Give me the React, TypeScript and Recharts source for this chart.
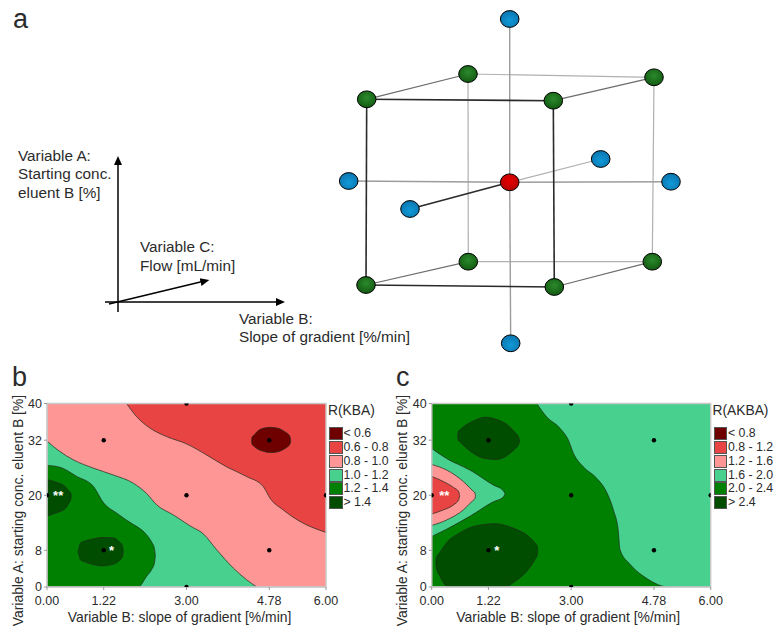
import { Area, ComposedChart, ReferenceArea, ReferenceLine, Scatter, ScatterChart, XAxis, YAxis } from 'recharts';

const FONT = '"Liberation Sans", Arial, sans-serif';
const TEXT = '#2b2b2b';

// contour colours, same six for both panels
const shades = ['#6e0000', '#e84444', '#ff9696', '#48d08f', '#008000', '#004d00'];

const slopeTicks = [0, 1.22, 3, 4.78, 6];
const concTicks = [0, 8, 20, 32, 40];
const designPoints = [
  { x: 1.22, y: 32 }, { x: 1.22, y: 8 }, { x: 3, y: 40 }, { x: 3, y: 20 }, { x: 3, y: 0 },
  { x: 4.78, y: 32 }, { x: 4.78, y: 8 }, { x: 0, y: 20 }, { x: 6, y: 20 },
];

// panel b: [x, low, high] along each contour band
const kbaRed = [
  [1.71, 40, 40], [1.93, 37.1, 40], [2.22, 34.6, 40], [2.57, 32.8, 40], [3, 31.2, 40], [3.43, 28.8, 40], [3.86, 26.2, 40],
  [4.29, 24.1, 40], [4.65, 21.9, 40], [4.8, 19.3, 40], [5.08, 16.8, 40], [5.44, 14.3, 40], [6, 11.9, 40],
];
const kbaDarkRed = [
  [4.4, 31.9, 31.9], [4.41, 31.1, 32.7], [4.45, 30.7, 33.1], [4.51, 30.2, 33.8], [4.65, 29.6, 34.6], [4.8, 29.3, 34.8], [4.97, 29.5, 34.6], [5.12, 30.2, 33.8], [5.18, 30.6, 33.4], [5.23, 31.3, 32.6], [5.24, 31.9, 31.9],
];
const kbaTeal = [
  [0, 0, 31.8], [0.28, 0, 29.5], [0.57, 0, 27.7], [1, 0, 25.9], [1.43, 0, 24.4], [1.86, 0, 22.6], [2.14, 0, 20.4], [2.36, 0, 17.9],
  [2.72, 0, 15.7], [3.08, 0, 13.3], [3.36, 0, 11.6], [3.65, 0, 8.1], [4.01, 0, 4.1], [4.29, 0, 1.6], [4.51, 0, 0],
];
const kbaGreen = [
  [0, 0, 26.5], [0.28, 0, 26.1], [0.64, 0, 24.1], [1, 0, 21.9], [1.22, 0, 18.3], [1.5, 0, 16.1], [1.86, 0, 13.6], [1.96, 0, 13],
  [2.14, 2.3, 11.4], [2.25, 3.8, 9.8], [2.31, 5.2, 8.4], [2.33, 6.9, 6.9],
];
const kbaDarkLeft = [[0, 15.5, 23.4], [0.21, 16.2, 22.8], [0.39, 17.1, 21.9], [0.47, 18.3, 20.9], [0.51, 19.1, 20.5], [0.52, 19.9, 19.9]];
const kbaDarkLow = [
  [0.67, 7.75, 7.75], [0.69, 6.9, 8.6], [0.72, 5.9, 9.6], [0.78, 5.6, 9.9], [0.96, 5.0, 10.4], [1.18, 4.6, 10.8], [1.43, 5, 10.7], [1.55, 5.7, 9.9], [1.62, 6.6, 9], [1.64, 7.75, 7.75],
];

// panel c
const akbaTeal = [
  [2.26, 40, 40], [2.47, 37.1, 40], [2.76, 34.6, 40], [2.94, 32, 40], [3.05, 29.1, 40], [3.26, 26.2, 40], [3.55, 23.7, 40],
  [3.76, 20.7, 40], [3.91, 16.7, 40], [4.01, 12.4, 40], [4.05, 8.1, 40], [4.27, 4.9, 40], [4.62, 1.9, 40], [5.09, 0, 40], [6, 0, 40],
];
const akbaNoseTeal = [[0, 11, 30.2], [0.32, 12.6, 28], [0.82, 15.4, 25.5], [1.33, 18.6, 22.2], [1.53, 19.5, 21.1], [1.58, 20.3, 20.3]];
const akbaNosePink = [[0, 13.4, 26.7], [0.32, 14.6, 25.5], [0.68, 16.8, 23], [0.88, 18.8, 21], [0.93, 19.3, 20.5], [0.94, 19.9, 19.9]];
const akbaNoseRed = [[0, 15.9, 24.1], [0.25, 16.8, 23], [0.47, 17.9, 21.7], [0.58, 19, 20.8], [0.6, 19.9, 19.9]];
const akbaDarkTop = [
  [0.56, 32.9, 32.9], [0.57, 32, 33.8], [0.6, 31.7, 34.2], [0.68, 30.9, 34.9], [0.9, 29.1, 36.2], [1.15, 28, 37], [1.4, 27.8, 36.5], [1.68, 29.1, 34.9], [1.78, 30, 33.8], [1.87, 31.1, 32.6], [1.89, 31.8, 31.8],
];
const akbaDarkLow = [
  [0.09, 5.2, 5.2], [0.1, 4.2, 6.3], [0.18, 2.3, 7.6], [0.36, 0, 10.1], [0.54, 0, 11.4], [0.9, 0, 13.2], [1.37, 0, 13.8], [1.59, 0, 13.4],
  [1.76, 1, 12.8], [2.12, 4.4, 10.7], [2.22, 6, 9.6], [2.27, 7, 8.9], [2.28, 8.1, 8.1],
];

const kbaLegend = ['< 0.6', '0.6 - 0.8', '0.8 - 1.0', '1.0 - 1.2', '1.2 - 1.4', '> 1.4'];
const akbaLegend = ['< 0.8', '0.8 - 1.2', '1.2 - 1.6', '1.6 - 2.0', '2.0 - 2.4', '> 2.4'];

// panel a, hidden axes run in the units of the sketch
const frontTL = { x: 366.7, y: 99.3 };
const frontTR = { x: 553.3, y: 100.7 };
const frontBL = { x: 366, y: 285 };
const frontBR = { x: 554.3, y: 287 };
const rearTL = { x: 468, y: 74 };
const rearTR = { x: 654, y: 77.3 };
const rearBL = { x: 468.3, y: 261.7 };
const rearBR = { x: 652.3, y: 261.7 };
const axisTop = { x: 509.7, y: 19 };
const axisBottom = { x: 510.7, y: 343.3 };
const axisLeft = { x: 348.7, y: 181 };
const axisRight = { x: 671, y: 181.7 };
const axisFront = { x: 410, y: 209 };
const axisBack = { x: 600.7, y: 159 };
const center = { x: 509.7, y: 182.3 };

const greenNodes = [frontTL, frontTR, frontBL, frontBR, rearTL, rearTR, rearBL, rearBR];
const blueNodes = [axisTop, axisBottom, axisLeft, axisRight, axisFront, axisBack];
const redNodes = [center];

const frontEdges = [[frontTL, frontTR], [frontTL, frontBL], [frontTR, frontBR], [frontBL, frontBR], [axisFront, center]];
const rearEdges = [[rearTL, rearTR], [rearTL, rearBL], [rearTR, rearBR], [rearBL, rearBR], [center, axisBack]];
const depthEdges = [[frontTL, rearTL], [frontTR, rearTR], [frontBL, rearBL], [frontBR, rearBR]];
const starEdges = [[axisTop, center], [center, axisBottom], [axisLeft, center], [center, axisRight]];
const arrowEdges = [
  [{ x: 118, y: 312 }, { x: 118, y: 163 }],
  [{ x: 105, y: 302 }, { x: 278, y: 302 }],
  [{ x: 109, y: 304 }, { x: 202.5, y: 281.6 }],
];

const toRows = (band: number[][]) => band.map(([x, low, high]) => ({ x, band: [low, high] }));

function Dot({ cx, cy }: any) {
  return <circle cx={cx} cy={cy} r={2.2} fill="#000" />;
}

function Stars({ cx, cy, payload }: any) {
  return (
    <text x={cx} y={cy + 5} textAnchor="middle" fontSize={13} fontWeight="bold" fontFamily={FONT} fill="#fff">
      {payload.mark}
    </text>
  );
}

function Node({ cx, cy, fill }: any) {
  return <ellipse cx={cx} cy={cy} rx={9.3} ry={8.4} fill={fill} stroke="#000" strokeWidth={1} />;
}

function Legend({ left, title, labels }: { left: number; title: string; labels: string[] }) {
  return (
    <div style={{ position: 'absolute', left, top: 0, fontFamily: FONT, color: TEXT }}>
      <div style={{ position: 'absolute', left: 0, top: 403, fontSize: 13.8, whiteSpace: 'nowrap' }}>{title}</div>
      {labels.map((label, i) => (
        <div key={label} style={{ position: 'absolute', left: 1, top: 427.3 + i * 13.75, height: 13, whiteSpace: 'nowrap' }}>
          <div style={{ position: 'absolute', left: 0, top: 0, width: 11.5, height: 11, background: shades[i], border: '0.8px solid #555' }} />
          <div style={{ position: 'absolute', left: 14.5, top: -1, fontSize: 12.3, lineHeight: '14px' }}>{label}</div>
        </div>
      ))}
    </div>
  );
}

function ContourPanel({ left, marginRight, yAxisWidth, background, bands, stars, xLabelShift }: any) {
  return (
    <div style={{ position: 'absolute', left, top: 385 }}>
      <ComposedChart width={345} height={250} margin={{ top: 18.5, right: marginRight, bottom: 0, left: 0 }}>
        <XAxis
          dataKey="x"
          type="number"
          domain={[0, 6]}
          ticks={slopeTicks}
          interval={0}
          allowDataOverflow
          tickFormatter={(v: number) => v.toFixed(2)}
          height={48}
          tickSize={3}
          tickMargin={6}
          axisLine={{ stroke: '#c8c8c8' }}
          tickLine={{ stroke: '#999' }}
          tick={{ fontSize: 12.5, fill: TEXT, fontFamily: FONT }}
          label={{ value: 'Variable B: slope of gradient [%/min]', position: 'insideBottom', dx: xLabelShift, dy: -8, fontSize: 13.9, fill: TEXT, fontFamily: FONT }}
        />
        <YAxis
          dataKey="y"
          type="number"
          domain={[0, 40]}
          ticks={concTicks}
          interval={0}
          allowDataOverflow
          width={yAxisWidth}
          tickSize={3}
          axisLine={{ stroke: '#c8c8c8' }}
          tickLine={{ stroke: '#999' }}
          tick={{ fontSize: 12.5, fill: TEXT, fontFamily: FONT }}
          label={{ value: 'Variable A: starting conc. eluent B [%]', angle: -90, position: 'insideLeft', dx: 13, dy: 131, fontSize: 13.9, fill: TEXT, fontFamily: FONT }}
        />
        <ReferenceArea x1={0} x2={6} y1={0} y2={40} fill={background} fillOpacity={1} stroke="none" />
        {bands.map((b: any, i: number) => (
          <Area
            key={i}
            data={toRows(b.rows)}
            dataKey="band"
            type="monotone"
            fill={b.fill}
            fillOpacity={1}
            stroke="#1c2a1c"
            strokeWidth={0.7}
            dot={false}
            activeDot={false}
            legendType="none"
            isAnimationActive={false}
          />
        ))}
        <Scatter data={designPoints} shape={<Dot />} isAnimationActive={false} />
        <Scatter data={stars} shape={<Stars />} isAnimationActive={false} />
        <ReferenceArea x1={0} x2={6} y1={0} y2={40} fill="none" stroke="#c8c8c8" strokeWidth={1.4} />
      </ComposedChart>
    </div>
  );
}

function DesignCube() {
  const edgeGroups = [
    { edges: rearEdges, stroke: '#b0b0b0', width: 1.2 },
    { edges: depthEdges, stroke: '#6c6c6c', width: 1.2 },
    { edges: starEdges, stroke: '#9c9c9c', width: 1.4 },
    { edges: frontEdges, stroke: '#2a2a2a', width: 1.6 },
  ];
  return (
    <div style={{ position: 'absolute', left: 0, top: 0 }}>
      <ScatterChart width={780} height={370} margin={{ top: 0, right: 0, bottom: 0, left: 0 }}>
        <defs>
          <radialGradient id="greenBall" cx="50%" cy="40%" r="60%">
            <stop offset="0%" stopColor="#2c8a2c" />
            <stop offset="100%" stopColor="#125a12" />
          </radialGradient>
          <radialGradient id="blueBall" cx="50%" cy="60%" r="60%">
            <stop offset="0%" stopColor="#109ad8" />
            <stop offset="100%" stopColor="#0b74ae" />
          </radialGradient>
          <radialGradient id="redBall" cx="50%" cy="40%" r="60%">
            <stop offset="0%" stopColor="#e80000" />
            <stop offset="100%" stopColor="#b40000" />
          </radialGradient>
          <marker id="arrowHead" markerUnits="userSpaceOnUse" markerWidth="10" markerHeight="10" refX="2" refY="5" orient="auto">
            <path d="M0,1 L9,5 L0,9 Z" fill="#000" />
          </marker>
        </defs>
        <XAxis dataKey="x" type="number" domain={[0, 780]} hide />
        <YAxis dataKey="y" type="number" domain={[0, 370]} reversed hide />
        {edgeGroups.map((group) =>
          group.edges.map((edge, i) => (
            <ReferenceLine key={group.stroke + i} segment={edge} stroke={group.stroke} strokeWidth={group.width} ifOverflow="visible" />
          )),
        )}
        {arrowEdges.map((edge, i) => (
          <ReferenceLine key={'arrow' + i} segment={edge} stroke="#000" strokeWidth={1.5} markerEnd="url(#arrowHead)" ifOverflow="visible" />
        ))}
        <Scatter data={greenNodes} fill="url(#greenBall)" shape={<Node />} isAnimationActive={false} />
        <Scatter data={blueNodes} fill="url(#blueBall)" shape={<Node />} isAnimationActive={false} />
        <Scatter data={redNodes} fill="url(#redBall)" shape={<Node />} isAnimationActive={false} />
      </ScatterChart>
    </div>
  );
}

function Note({ left, baseline, size = 15.3, children }: any) {
  return (
    <div style={{ position: 'absolute', left, top: baseline - size, fontSize: size, lineHeight: `${size * 1.2}px`, fontFamily: FONT, color: TEXT, whiteSpace: 'nowrap' }}>
      {children}
    </div>
  );
}

export default function App() {
  return (
    <div style={{ position: 'absolute', left: 0, top: 0, width: 780, height: 635, background: '#fff', overflow: 'hidden' }}>
      <DesignCube />
      <Note left={13} baseline={30} size={27}>a</Note>
      <Note left={12} baseline={388} size={27}>b</Note>
      <Note left={396} baseline={388} size={27}>c</Note>

      <Note left={18} baseline={162}>Variable A:</Note>
      <Note left={18} baseline={180}>Starting conc.</Note>
      <Note left={18} baseline={199}>eluent B [%]</Note>
      <Note left={140} baseline={253}>Variable C:</Note>
      <Note left={140} baseline={272}>Flow [mL/min]</Note>
      <Note left={239} baseline={325}>Variable B:</Note>
      <Note left={239} baseline={343}>Slope of gradient [%/min]</Note>

      <ContourPanel
        left={0}
        marginRight={19}
        yAxisWidth={47}
        background={shades[2]}
        xLabelShift={-7}
        stars={[{ x: 0.24, y: 20, mark: '**' }, { x: 1.39, y: 8, mark: '*' }]}
        bands={[
          { rows: kbaRed, fill: shades[1] },
          { rows: kbaDarkRed, fill: shades[0] },
          { rows: kbaTeal, fill: shades[3] },
          { rows: kbaGreen, fill: shades[4] },
          { rows: kbaDarkLeft, fill: shades[5] },
          { rows: kbaDarkLow, fill: shades[5] },
        ]}
      />
      <Legend left={328} title="R(KBA)" labels={kbaLegend} />

      <ContourPanel
        left={384}
        marginRight={18.3}
        yAxisWidth={47.7}
        background={shades[4]}
        xLabelShift={-3}
        stars={[{ x: 0.27, y: 20, mark: '**' }, { x: 1.4, y: 8, mark: '*' }]}
        bands={[
          { rows: akbaTeal, fill: shades[3] },
          { rows: akbaNoseTeal, fill: shades[3] },
          { rows: akbaNosePink, fill: shades[2] },
          { rows: akbaNoseRed, fill: shades[1] },
          { rows: akbaDarkTop, fill: shades[5] },
          { rows: akbaDarkLow, fill: shades[5] },
        ]}
      />
      <Legend left={712.5} title="R(AKBA)" labels={akbaLegend} />
    </div>
  );
}
